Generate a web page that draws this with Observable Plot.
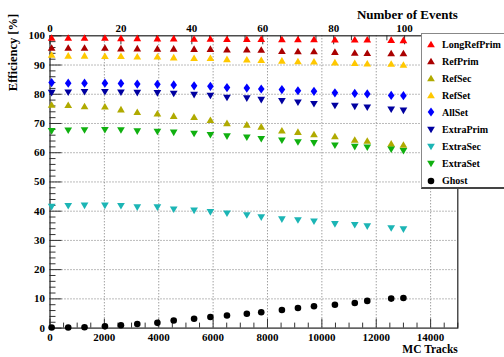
<!DOCTYPE html>
<html><head><meta charset="utf-8">
<script src="https://cdn.jsdelivr.net/npm/d3@7"></script>
<script src="https://cdn.jsdelivr.net/npm/@observablehq/plot@0.6"></script>
<style>
html,body{margin:0;padding:0;background:#fff;overflow:hidden}
#wrap{position:relative;width:504px;height:357px;overflow:hidden}
#legend{position:absolute;left:421px;top:33px;width:100px;height:153px;border:1px solid #888;border-bottom:2px solid #444;background:#fff;font:bold 10px "Liberation Serif",serif;color:#000}
.row{position:absolute;left:0;height:16px;display:flex;align-items:center}
.row svg{margin-left:3px;margin-right:5px}
</style></head><body><div id="wrap"></div><script>
// ---- data ----
const mcTracks = [60, 670, 1270, 2020, 2610, 3210, 3950, 4550, 5300, 5900, 6510, 7240, 7770, 8530, 9120, 9710, 10480, 11210, 11670, 12550, 13000];
const seriesNames = ["LongRefPrim","RefPrim","RefSec","RefSet","AllSet","ExtraPrim","ExtraSec","ExtraSet","Ghost"];
const seriesColors = ["#ff0000","#aa0000","#b0aa00","#ffc800","#0000ff","#0000a0","#1cb5b5","#10b010","#000000"];
const seriesShapes = ["up","up","up","up","diamond","down","down","down","circle"];
const longRefPrim = [99.4, 99.4, 99.4, 99.4, 99.3, 99.3, 99.2, 99.2, 99.1, 99.1, 99.0, 99.0, 99.0, 98.9, 98.9, 98.9, 98.8, 98.8, 98.8, 98.7, 98.6];
const refPrim = [96.0, 96.0, 96.0, 96.0, 95.8, 95.8, 95.7, 95.7, 95.6, 95.6, 95.4, 95.4, 95.3, 94.9, 94.8, 94.8, 94.6, 94.3, 94.2, 94.1, 94.1];
const refSec = [76.5, 76.4, 76.0, 75.9, 74.9, 74.0, 73.5, 72.7, 72.3, 71.3, 70.2, 69.7, 69.0, 67.7, 67.2, 66.4, 65.7, 64.5, 64.2, 63.2, 62.8];
const refSet = [93.6, 93.3, 93.3, 93.2, 93.2, 93.0, 93.0, 92.7, 92.5, 92.5, 92.1, 92.0, 91.8, 91.6, 91.4, 91.3, 91.0, 90.8, 90.6, 90.5, 90.2];
const allSet = [84.0, 83.8, 83.8, 83.8, 83.7, 83.5, 83.4, 83.2, 82.9, 82.7, 82.3, 82.1, 81.8, 81.6, 81.2, 81.0, 80.5, 80.3, 80.1, 79.6, 79.5];
const extraPrim = [80.4, 80.5, 80.7, 80.7, 80.5, 80.4, 80.3, 80.1, 79.7, 79.4, 78.7, 78.5, 78.0, 77.6, 77.1, 76.6, 76.0, 75.7, 75.4, 74.7, 74.3];
const extraSec = [41.4, 41.7, 41.8, 41.8, 41.7, 41.2, 41.2, 40.5, 40.1, 39.6, 39.1, 38.5, 37.8, 37.1, 36.8, 36.4, 35.5, 35.2, 34.7, 34.1, 33.7];
const extraSet = [67.3, 67.5, 67.6, 67.7, 67.6, 67.2, 67.1, 66.8, 66.4, 66.0, 65.5, 65.1, 64.6, 64.1, 63.5, 63.2, 62.4, 61.9, 61.7, 61.0, 60.5];
const ghost = [0.2, 0.2, 0.3, 0.6, 1.0, 1.4, 1.8, 2.6, 3.2, 3.8, 4.3, 4.9, 5.4, 6.2, 6.9, 7.5, 8.0, 8.6, 9.3, 10.1, 10.3];
const seriesValues = [longRefPrim, refPrim, refSec, refSet, allSet, extraPrim, extraSec, extraSet, ghost];
const xTicks = [0, 2000, 4000, 6000, 8000, 10000, 12000, 14000];
const yTicks = [0, 10, 20, 30, 40, 50, 60, 70, 80, 90, 100];
const eventTicks = [0, 20, 40, 60, 80, 100];
const xMax = 15000, eventsMax = 115;

// ---- symbols ----
const sym = {
  up: {draw(c, s){const r=Math.sqrt(s/Math.PI); c.moveTo(0,-r); c.lineTo(1.17*r,r); c.lineTo(-1.17*r,r); c.closePath();}},
  down: {draw(c, s){const r=Math.sqrt(s/Math.PI); c.moveTo(0,r); c.lineTo(1.17*r,-r); c.lineTo(-1.17*r,-r); c.closePath();}},
  diamond: {draw(c, s){const r=Math.sqrt(s/Math.PI); c.moveTo(0,-1.4*r); c.lineTo(r,0); c.lineTo(0,1.4*r); c.lineTo(-r,0); c.closePath();}},
  circle: d3.symbolCircle
};
const symR = {up: 3.3, down: 3.3, diamond: 3.3, circle: 3.3};

const W = 504, H = 357, mL = 49.5, mR = 46.7, mT = 35.3, mB = 29.4;
const pw = W - mL - mR, ph = H - mT - mB;
const toTracks = e => e * xMax / eventsMax;

const rows = [];
seriesNames.forEach((n, s) => mcTracks.forEach((t, i) => rows.push({series: n, s, tracks: t, eff: seriesValues[s][i]})));

const xMinor = d3.range(0, 15001, 500).filter(v => v % 2000 !== 0);
const yMinor = d3.range(0, 101, 2).filter(v => v % 10 !== 0);
const evMinor = d3.range(0, 116, 5).filter(v => v % 20 !== 0);
const gridStyle = {stroke: "#777", strokeDasharray: "1,2", strokeWidth: 1};
const tickStyle = {stroke: "#333", strokeWidth: 1};
const fmt = d => String(d);

const marks = [
  Plot.ruleX(xTicks.filter(v => v > 0), {x: d => d, ...gridStyle}),
  Plot.ruleY(yTicks.filter(v => v > 0 && v < 100), {y: d => d, ...gridStyle}),
  Plot.tickY(yMinor, {y: d => d, insetRight: pw - 6, ...tickStyle}),
  Plot.tickY(yTicks, {y: d => d, insetRight: pw - 12, ...tickStyle}),
  Plot.tickX(xMinor, {x: d => d, insetTop: ph - 5, ...tickStyle}),
  Plot.tickX(xTicks, {x: d => d, insetTop: ph - 9, ...tickStyle}),
  Plot.tickX(evMinor, {x: toTracks, insetBottom: ph - 5, ...tickStyle}),
  Plot.tickX(eventTicks, {x: toTracks, insetBottom: ph - 9, ...tickStyle}),
  Plot.frame({stroke: "#222", strokeWidth: 1.2}),
  ...seriesNames.map((n, s) => Plot.dot(rows.filter(r => r.s === s), {
    x: "tracks", y: "eff", fill: seriesColors[s], stroke: "none",
    symbol: sym[seriesShapes[s]], r: symR[seriesShapes[s]]
  })),
  Plot.axisX(xTicks, {tickSize: 0, tickPadding: 5, fontSize: 11, tickFormat: fmt}),
  Plot.axisY(yTicks, {tickSize: 0, tickPadding: 5, fontSize: 11, tickFormat: fmt}),
  Plot.text(eventTicks, {x: toTracks, text: fmt, frameAnchor: "top", dy: -4, lineAnchor: "bottom", fontSize: 11}),
  Plot.text(["Number of Events"], {frameAnchor: "top-right", text: d => d, dy: -17, lineAnchor: "bottom", textAnchor: "end", fontSize: 13}),
  Plot.text(["MC Tracks"], {frameAnchor: "bottom-right", text: d => d, dy: 21, lineAnchor: "middle", textAnchor: "end", fontSize: 11.5}),
  Plot.text(["Efficiency [%]"], {frameAnchor: "top-left", text: d => d, dx: -37.5, dy: -22, rotate: -90, textAnchor: "end", lineAnchor: "middle", fontSize: 12.5})
];

const chart = Plot.plot({
  width: W, height: H,
  marginLeft: mL, marginRight: mR, marginTop: mT, marginBottom: mB,
  x: {domain: [0, xMax], label: null},
  y: {domain: [0, 100], label: null},
  style: {fontFamily: "'Liberation Serif', serif", fontWeight: "bold", fontSize: "11px", background: "#fff", color: "#000"},
  marks
});
const wrap = document.getElementById("wrap");
wrap.appendChild(chart);

// ---- legend ----
const leg = document.createElement("div");
leg.id = "legend";
seriesNames.forEach((n, s) => {
  const row = document.createElement("div");
  row.className = "row";
  row.style.top = (2 + s * 17.1) + "px";
  const svg = d3.create("svg").attr("width", 12).attr("height", 12);
  svg.append("path").attr("transform", "translate(6,6)")
    .attr("d", d3.symbol(sym[seriesShapes[s]], Math.PI * symR[seriesShapes[s]] ** 2)())
    .attr("fill", seriesColors[s]);
  row.appendChild(svg.node());
  const sp = document.createElement("span");
  sp.textContent = n;
  row.appendChild(sp);
  leg.appendChild(row);
});
wrap.appendChild(leg);
</script></body></html>
